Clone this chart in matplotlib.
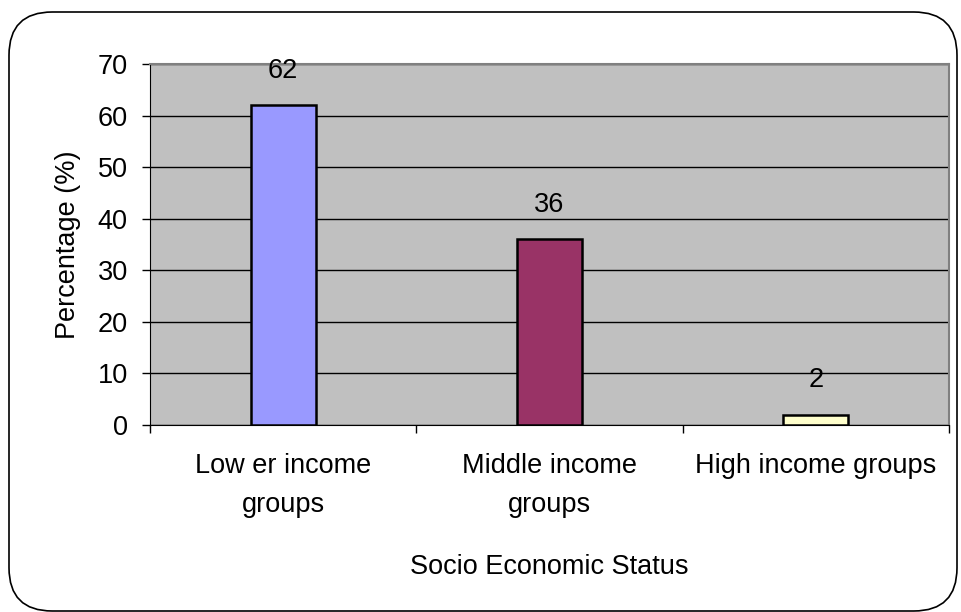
import matplotlib.pyplot as plt
from matplotlib.patches import FancyBboxPatch

# data
categories = ['Low er income\ngroups', 'Middle income\ngroups', 'High income groups']
values = [62, 36, 2]
colors = ['#9999FF', '#993366', '#FFFFCC']
yticks = [0, 10, 20, 30, 40, 50, 60, 70]

plt.rcParams['font.family'] = ['Liberation Sans', 'DejaVu Sans']
FS = 19.5

fig = plt.figure(figsize=(9.61, 6.12), dpi=100)
ax = fig.add_axes([150 / 961, 1 - 425 / 612, (949 - 150) / 961, (425 - 64) / 612])

# rounded frame around the chart
frame = FancyBboxPatch((9 / 961, 1 / 612), 948 / 961, 599 / 612,
                       boxstyle='round,pad=0,rounding_size=0.045',
                       transform=fig.transFigure, fill=False,
                       edgecolor='black', linewidth=1.2, mutation_aspect=961 / 612)
fig.patches.append(frame)

ax.set_facecolor('#C0C0C0')
x = range(len(categories))
ax.bar(x, values, width=0.245, color=colors, edgecolor='black', linewidth=1.8, zorder=3)
for xi, v in zip(x, values):
    ax.annotate(str(v), (xi, v), xytext=(0, 25), textcoords='offset points',
                ha='center', va='center', fontsize=FS, zorder=4)

ax.set_xlim(-0.5, 2.5)
ax.set_ylim(0, 70)
ax.set_yticks(yticks)
ax.yaxis.grid(True, color='black', linewidth=1, zorder=1)
ax.set_axisbelow(True)
ax.tick_params(axis='y', labelsize=FS, length=6, width=1, direction='out', pad=10)
ax.set_xticks([-0.5, 0.5, 1.5, 2.5], minor=False)
ax.set_xticklabels([])
ax.tick_params(axis='x', length=6, width=1, direction='out')
ax.set_xticks(list(x), minor=True)
ax.set_xticklabels(categories, minor=True, fontsize=FS, linespacing=1.65)
ax.tick_params(axis='x', which='minor', length=0, pad=20.5)

ax.spines['top'].set_color('#808080')
ax.spines['right'].set_color('#808080')
ax.spines['top'].set_linewidth(1.5)
ax.spines['right'].set_linewidth(1.5)
ax.spines['left'].set_color('black')
ax.spines['bottom'].set_color('black')

ax.set_ylabel('Percentage (%)', fontsize=FS, labelpad=12)
ax.set_xlabel('Socio Economic Status', fontsize=FS, labelpad=25.5)

fig.savefig('out.png', dpi=100)
